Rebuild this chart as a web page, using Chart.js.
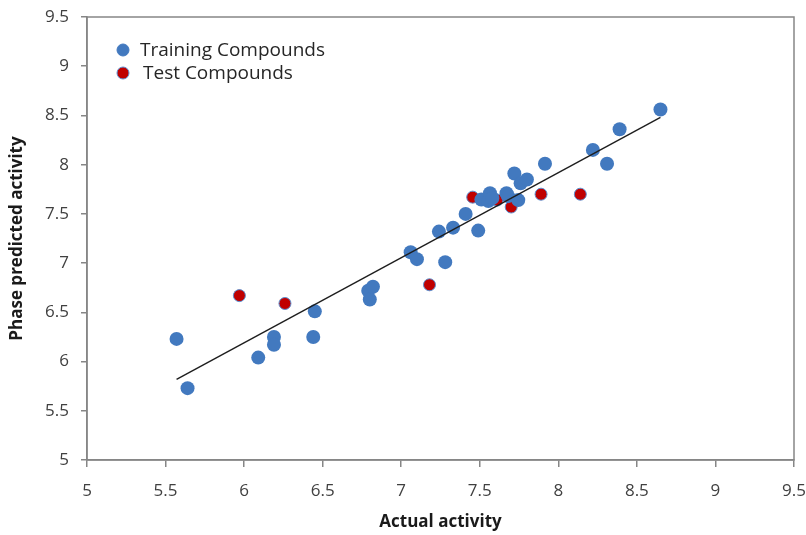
<!DOCTYPE html>
<html>
<head>
<meta charset="utf-8">
<script src="https://cdn.jsdelivr.net/npm/chart.js@4/dist/chart.umd.min.js"></script>
<style>
  html, body { margin: 0; padding: 0; background: #ffffff; }
  #wrap { width: 806px; height: 535px; }
</style>
</head>
<body>
<div id="wrap"><canvas id="c" width="806" height="535"></canvas></div>
<script>
// ---- Data ----
const trainingActual = [5.57, 5.64, 6.09, 6.19, 6.19, 6.44, 6.45, 6.79, 6.80, 6.82,
  7.06, 7.10, 7.24, 7.28, 7.33, 7.41, 7.49, 7.51, 7.555, 7.565, 7.58, 7.67, 7.68,
  7.72, 7.745, 7.76, 7.80, 7.915, 8.22, 8.31, 8.39, 8.65];
const trainingPredicted = [6.23, 5.73, 6.04, 6.25, 6.17, 6.25, 6.51, 6.72, 6.63, 6.76,
  7.11, 7.04, 7.32, 7.01, 7.36, 7.50, 7.33, 7.645, 7.63, 7.71, 7.66, 7.71, 7.68,
  7.91, 7.64, 7.81, 7.85, 8.01, 8.15, 8.01, 8.36, 8.56];
const testActual = [5.97, 6.26, 7.18, 7.455, 7.61, 7.70, 7.89, 8.14];
const testPredicted = [6.67, 6.59, 6.78, 7.67, 7.64, 7.57, 7.70, 7.70];
const fitActual = [5.57, 8.65];
const fitPredicted = [5.82, 8.48];
const axisTicks = [5, 5.5, 6, 6.5, 7, 7.5, 8, 8.5, 9, 9.5];
const seriesLabels = ['Training Compounds', 'Test Compounds'];
const xTitle = 'Actual activity';
const yTitle = 'Phase predicted activity';

const BLUE = '#4279BF';
const RED = '#C00000';
const AXIS = '#868686';

const toPts = (xs, ys) => xs.map((x, i) => ({ x: x, y: ys[i] }));

const framePlugin = {
  id: 'frame',
  afterDatasetsDraw(chart) {
    const a = chart.chartArea, ctx = chart.ctx;
    ctx.save();
    ctx.strokeStyle = AXIS;
    ctx.lineWidth = 1.5;
    ctx.strokeRect(a.left, a.top, a.right - a.left, a.bottom - a.top);
    ctx.restore();
  }
};

const legendPlugin = {
  id: 'customLegend',
  afterDraw(chart) {
    const ctx = chart.ctx;
    const items = [
      { label: chart.data.datasets[0].label, fill: BLUE, stroke: BLUE, mx: 123, my: 50, tx: 140 },
      { label: chart.data.datasets[1].label, fill: RED, stroke: '#5b8fd0', mx: 123, my: 73, tx: 143 }
    ];
    ctx.save();
    ctx.font = '19px "Open Sans"';
    ctx.textBaseline = 'middle';
    items.forEach(it => {
      ctx.beginPath();
      ctx.arc(it.mx, it.my, 6, 0, Math.PI * 2);
      ctx.fillStyle = it.fill;
      ctx.fill();
      ctx.lineWidth = 1;
      ctx.strokeStyle = it.stroke;
      ctx.stroke();
      ctx.fillStyle = '#262626';
      ctx.fillText(it.label, it.tx, it.my + 1);
    });
    ctx.restore();
  }
};

const tickFont = { family: '"Open Sans"', size: 17 };
const titleFont = { family: '"Open Sans"', size: 17, weight: 'bold' };

new Chart(document.getElementById('c'), {
  type: 'scatter',
  data: {
    datasets: [
      {
        label: seriesLabels[0],
        data: toPts(trainingActual, trainingPredicted),
        backgroundColor: BLUE,
        borderColor: BLUE,
        pointRadius: 7,
        pointBorderWidth: 0,
        order: 1
      },
      {
        label: seriesLabels[1],
        data: toPts(testActual, testPredicted),
        backgroundColor: RED,
        borderColor: '#5b8fd0',
        pointRadius: 6,
        pointBorderWidth: 1,
        order: 2
      },
      {
        label: 'fit',
        type: 'line',
        data: toPts(fitActual, fitPredicted),
        borderColor: '#1e1e1e',
        borderWidth: 1.4,
        pointRadius: 0,
        showLine: true,
        fill: false,
        order: 0
      }
    ]
  },
  options: {
    responsive: false,
    animation: false,
    devicePixelRatio: 1,
    layout: { padding: { top: 17, right: 12, left: 0, bottom: 0 } },
    plugins: { legend: { display: false }, tooltip: { enabled: false } },
    scales: {
      x: {
        type: 'linear',
        min: 5, max: 9.5,
        afterBuildTicks: s => { s.ticks = axisTicks.map(v => ({ value: v })); },
        afterFit: s => { s.height = 75; s.paddingLeft = 0; s.paddingRight = 0; },
        grid: { display: true, drawOnChartArea: false, drawTicks: true, tickLength: 7, color: AXIS, lineWidth: 1.5 },
        border: { display: true, color: AXIS, width: 1.5 },
        ticks: { font: tickFont, color: '#404040', padding: 14, maxRotation: 0, callback: v => String(v) },
        title: { display: true, text: xTitle, font: titleFont, color: '#1a1a1a', padding: { top: 0, bottom: 3 } }
      },
      y: {
        type: 'linear',
        min: 5, max: 9.5,
        afterBuildTicks: s => { s.ticks = axisTicks.map(v => ({ value: v })); },
        afterFit: s => { s.width = 87; s.paddingTop = 0; s.paddingBottom = 0; },
        grid: { display: true, drawOnChartArea: false, drawTicks: true, tickLength: 6, color: AXIS, lineWidth: 1.5 },
        border: { display: true, color: AXIS, width: 1.5 },
        ticks: { font: tickFont, color: '#404040', padding: 12, callback: v => String(v) },
        title: { display: true, text: yTitle, font: titleFont, color: '#1a1a1a', padding: { top: 7, bottom: 0 } }
      }
    }
  },
  plugins: [framePlugin, legendPlugin]
});
</script>
</body>
</html>
